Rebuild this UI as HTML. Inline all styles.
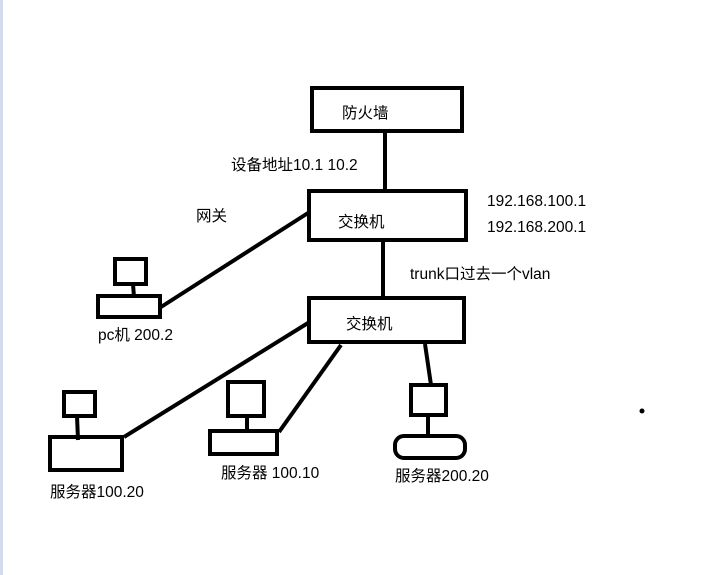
<!DOCTYPE html>
<html><head><meta charset="utf-8"><style>
html,body{margin:0;padding:0;background:#fff;}
svg{display:block;}
text{font-family:"Liberation Sans","Noto Sans CJK SC",sans-serif;font-size:15.5px;fill:#000;}
</style></head><body>
<svg width="713" height="575" viewBox="0 0 713 575" xmlns="http://www.w3.org/2000/svg">
<rect x="0" y="0" width="3" height="575" fill="#d3dcec"/>
<g fill="none" stroke="#000" stroke-width="4">
<rect x="312" y="88" width="150" height="43"/>
<rect x="309" y="191" width="157" height="49"/>
<rect x="309" y="298" width="155" height="44"/>
<rect x="115" y="259" width="31" height="25"/>
<rect x="98" y="296" width="62" height="21"/>
<rect x="64" y="392" width="31" height="24"/>
<rect x="50" y="437" width="72" height="33"/>
<rect x="228" y="382" width="36" height="34"/>
<rect x="210" y="431" width="67" height="23"/>
<rect x="411" y="385" width="35" height="30"/>
<rect x="395" y="436" width="70" height="22" rx="9"/>
<line x1="385" y1="133" x2="385" y2="189"/>
<line x1="383" y1="242" x2="383" y2="296"/>
<line x1="133" y1="284" x2="134" y2="297"/>
<line x1="161" y1="307" x2="308" y2="213"/>
<line x1="77" y1="416" x2="78" y2="440"/>
<line x1="124" y1="437" x2="308" y2="323"/>
<line x1="247" y1="416" x2="247" y2="431"/>
<line x1="279" y1="432" x2="341" y2="345"/>
<line x1="428" y1="415" x2="428" y2="436"/>
<line x1="425" y1="344" x2="431" y2="385"/>
</g>
<circle cx="642" cy="411" r="2.5" fill="#000"/>
<text x="342" y="118">防火墙</text>
<text x="231" y="170">设备地址10.1 10.2</text>
<text x="196" y="221">网关</text>
<text x="338" y="227">交换机</text>
<text x="487" y="206">192.168.100.1</text>
<text x="487" y="232">192.168.200.1</text>
<text x="410" y="279">trunk口过去一个vlan</text>
<text x="346" y="329">交换机</text>
<text x="98" y="340">pc机 200.2</text>
<text x="50" y="497">服务器100.20</text>
<text x="221" y="478">服务器 100.10</text>
<text x="395" y="481">服务器200.20</text>
</svg>
</body></html>
